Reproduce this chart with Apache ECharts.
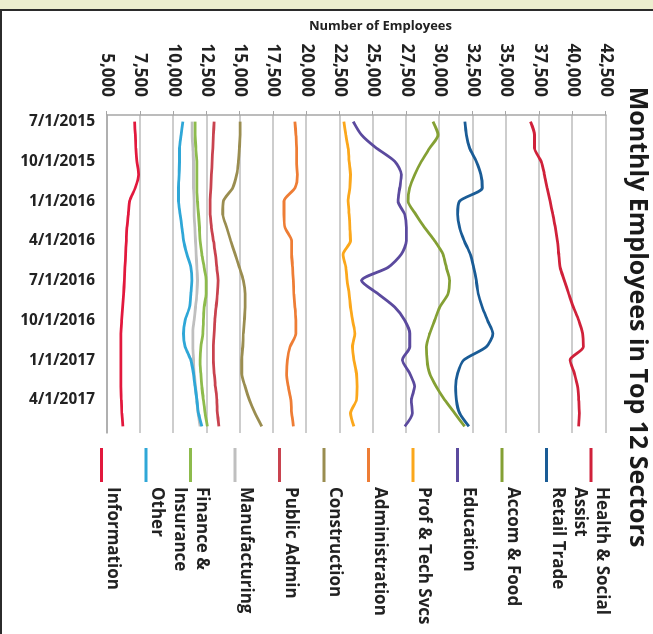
<!DOCTYPE html>
<html lang="en">
<head>
	<meta charset="UTF-8">
	<title>Monthly Employees in Top 12 Sectors</title>
    <style>
        body{margin:0; width:653px; height:634px; overflow:hidden; background:#fff; position:relative;}
        /* chart is drawn upright, then turned a quarter clockwise like the scan */
        #chart{position:absolute; left:0; top:0; width:634px; height:653px; transform-origin:0 0; transform:translateX(653px) rotate(90deg);}
        .band{position:absolute; left:0; top:0; width:653px; height:9px; background:#eceecf;}
        .hline{position:absolute; left:0; top:9px; width:653px; height:2px; background:#2b2b2b;}
        .vline{position:absolute; left:0; top:9px; width:2px; height:625px; background:#2b2b2b;}
    </style>
</head>
<body>
	<div id="chart"></div>
    <div class="band"></div><div class="hline"></div><div class="vline"></div>
	<script type="text/javascript" src="https://cdn.jsdelivr.net/npm/echarts/dist/echarts.min.js"></script>
    <script type="text/javascript">
        var months = ['7/1/2015','8/1/2015','9/1/2015','10/1/2015','11/1/2015','12/1/2015',
            '1/1/2016','2/1/2016','3/1/2016','4/1/2016','5/1/2016','6/1/2016',
            '7/1/2016','8/1/2016','9/1/2016','10/1/2016','11/1/2016','12/1/2016',
            '1/1/2017','2/1/2017','3/1/2017','4/1/2017','5/1/2017','6/1/2017'];

        var health = [36825, 37125, 37125, 37625, 37875, 38075, 38300, 38500, 38700, 38850, 38950, 39050, 39375, 39700, 40050, 40450, 40750, 40800, 39800, 40125, 40375, 40450, 40500, 40450];
        var retail = [31900, 32000, 32250, 32750, 33100, 33200, 31500, 31350, 31500, 31850, 32300, 32550, 32750, 32900, 33200, 33600, 34000, 33500, 31800, 31350, 31200, 31250, 31500, 32200];
        var accomFood = [29500, 29875, 29250, 28625, 28125, 27750, 27625, 28200, 28875, 29625, 30250, 30500, 30750, 30625, 30000, 29625, 29250, 29000, 29050, 29250, 29750, 30375, 31125, 31875];
        var education = [23500, 24125, 25250, 26625, 27125, 27000, 26875, 27375, 27500, 27500, 27125, 26125, 24125, 25375, 26625, 27375, 27750, 27750, 27200, 27750, 28125, 27875, 27950, 27375];
        var profTech = [22800, 22950, 23125, 23200, 23300, 23250, 23125, 23200, 23250, 23300, 22750, 22950, 23050, 23200, 23300, 23450, 23625, 23450, 23550, 23750, 23800, 23750, 23300, 23550];
        var administration = [19125, 19200, 19250, 19250, 19300, 19125, 18300, 18300, 18375, 18875, 18875, 18950, 19000, 19050, 19125, 19200, 19200, 18750, 18550, 18500, 18625, 18825, 18875, 19000];
        var construction = [15000, 15000, 14950, 14875, 14750, 14450, 13750, 13700, 14000, 14300, 14625, 14950, 15250, 15375, 15375, 15325, 15250, 15200, 15125, 15125, 15375, 15700, 16125, 16625];
        var publicAdmin = [13050, 13000, 12950, 12900, 12850, 12800, 12750, 12750, 12850, 13000, 13150, 13250, 13350, 13300, 13200, 13100, 13050, 13000, 13000, 13050, 13150, 13250, 13300, 13400];
        var manufacturing = [11400, 11400, 11450, 11500, 11500, 11500, 11550, 11550, 11600, 11650, 11700, 11750, 11800, 11750, 11650, 11550, 11450, 11450, 11500, 11550, 11650, 11750, 11850, 12000];
        var finance = [11625, 11625, 11675, 11750, 11750, 11750, 11800, 11875, 11950, 12000, 12125, 12300, 12450, 12450, 12300, 12250, 12200, 12050, 12000, 12050, 12125, 12250, 12375, 12550];
        var other = [10700, 10575, 10450, 10450, 10425, 10375, 10375, 10500, 10625, 10750, 11000, 11300, 11375, 11300, 11200, 10875, 10750, 10875, 11300, 11500, 11625, 11750, 11875, 12125];
        var information = [7075, 7125, 7175, 7250, 7375, 7125, 6700, 6600, 6500, 6450, 6400, 6350, 6300, 6250, 6175, 6100, 6050, 6050, 6050, 6050, 6050, 6075, 6125, 6200];

        var sectors = ['Health & Social Assist', 'Retail Trade', 'Accom & Food', 'Education', 'Prof & Tech Svcs',
            'Administration', 'Construction', 'Public Admin', 'Manufacturing', 'Finance & Insurance', 'Other', 'Information'];
        var values = [health, retail, accomFood, education, profTech, administration, construction,
            publicAdmin, manufacturing, finance, other, information];
        var colors = ['#d0213a', '#1a5c96', '#84a034', '#5b4a9e', '#fba71b', '#ee7d35',
            '#9a8d50', '#c9434f', '#bfbfbf', '#8dbb4c', '#2fa7d7', '#e2183d'];
        // legend text split the way the scan wraps it
        var legendText = {'Health & Social Assist': 'Health & Social\nAssist', 'Finance & Insurance': 'Finance &\nInsurance'};

        var font = 'Open Sans';
        var series = [];
        for (var i = 0; i < sectors.length; i++) {
            series.push({
                name: sectors[i],
                type: 'line',
                data: values[i],
                smooth: 0.25,
                symbol: 'none',
                color: colors[i],
                lineStyle: {width: 2.8}
            });
        }

        var dom = document.getElementById("chart");
        var myChart = echarts.init(dom);
        var option = {
            animation: false,
            title: {
                text: 'Monthly Employees in Top 12 Sectors',
                left: 'center',
                top: 3,
                padding: 0,
                textStyle: {fontFamily: font, fontSize: 25, fontWeight: 'bold', color: '#1a1a1a'}
            },
            legend: {
                orient: 'vertical',
                left: 448,
                top: 29,
                padding: 0,
                icon: 'rect',
                itemWidth: 34,
                itemHeight: 3,
                itemGap: -21.5,
                data: sectors,
                formatter: function (name) {
                    return legendText[name] || (name + '\n ');
                },
                textStyle: {fontFamily: font, fontSize: 17, fontWeight: 'bold', color: '#222', lineHeight: 22, padding: [22, 0, 0, 0]}
            },
            grid: {left: 115, right: 201, top: 47, bottom: 107},
            xAxis: {
                type: 'category',
                data: months,
                boundaryGap: true,
                axisLine: {lineStyle: {color: '#a6a6a6', width: 1.5}},
                axisTick: {interval: 2, length: 5, lineStyle: {color: '#a6a6a6'}},
                axisLabel: {interval: 2, rotate: 90, margin: 12, fontFamily: font, fontSize: 15.5, fontWeight: 'bold', color: '#222'},
                splitLine: {show: false}
            },
            yAxis: {
                type: 'value',
                min: 5000,
                max: 42500,
                interval: 2500,
                name: 'Number of Employees',
                nameLocation: 'middle',
                nameRotate: 90,
                nameGap: 80,
                nameTextStyle: {fontFamily: font, fontSize: 13, fontWeight: 'bold', color: '#222', padding: [0, 0, 0, 48]},
                axisLine: {show: true, lineStyle: {color: '#a6a6a6', width: 1.5}},
                axisTick: {show: true, length: 4, lineStyle: {color: '#a6a6a6'}},
                axisLabel: {
                    margin: 18, fontFamily: font, fontSize: 17, fontWeight: 'bold', color: '#222',
                    formatter: function (v) { return v.toLocaleString('en-US'); }
                },
                splitLine: {lineStyle: {color: '#bcbcbc', width: 1.5}}
            },
            series: series
        };
        myChart.setOption(option);
    </script>
</body>
</html>
